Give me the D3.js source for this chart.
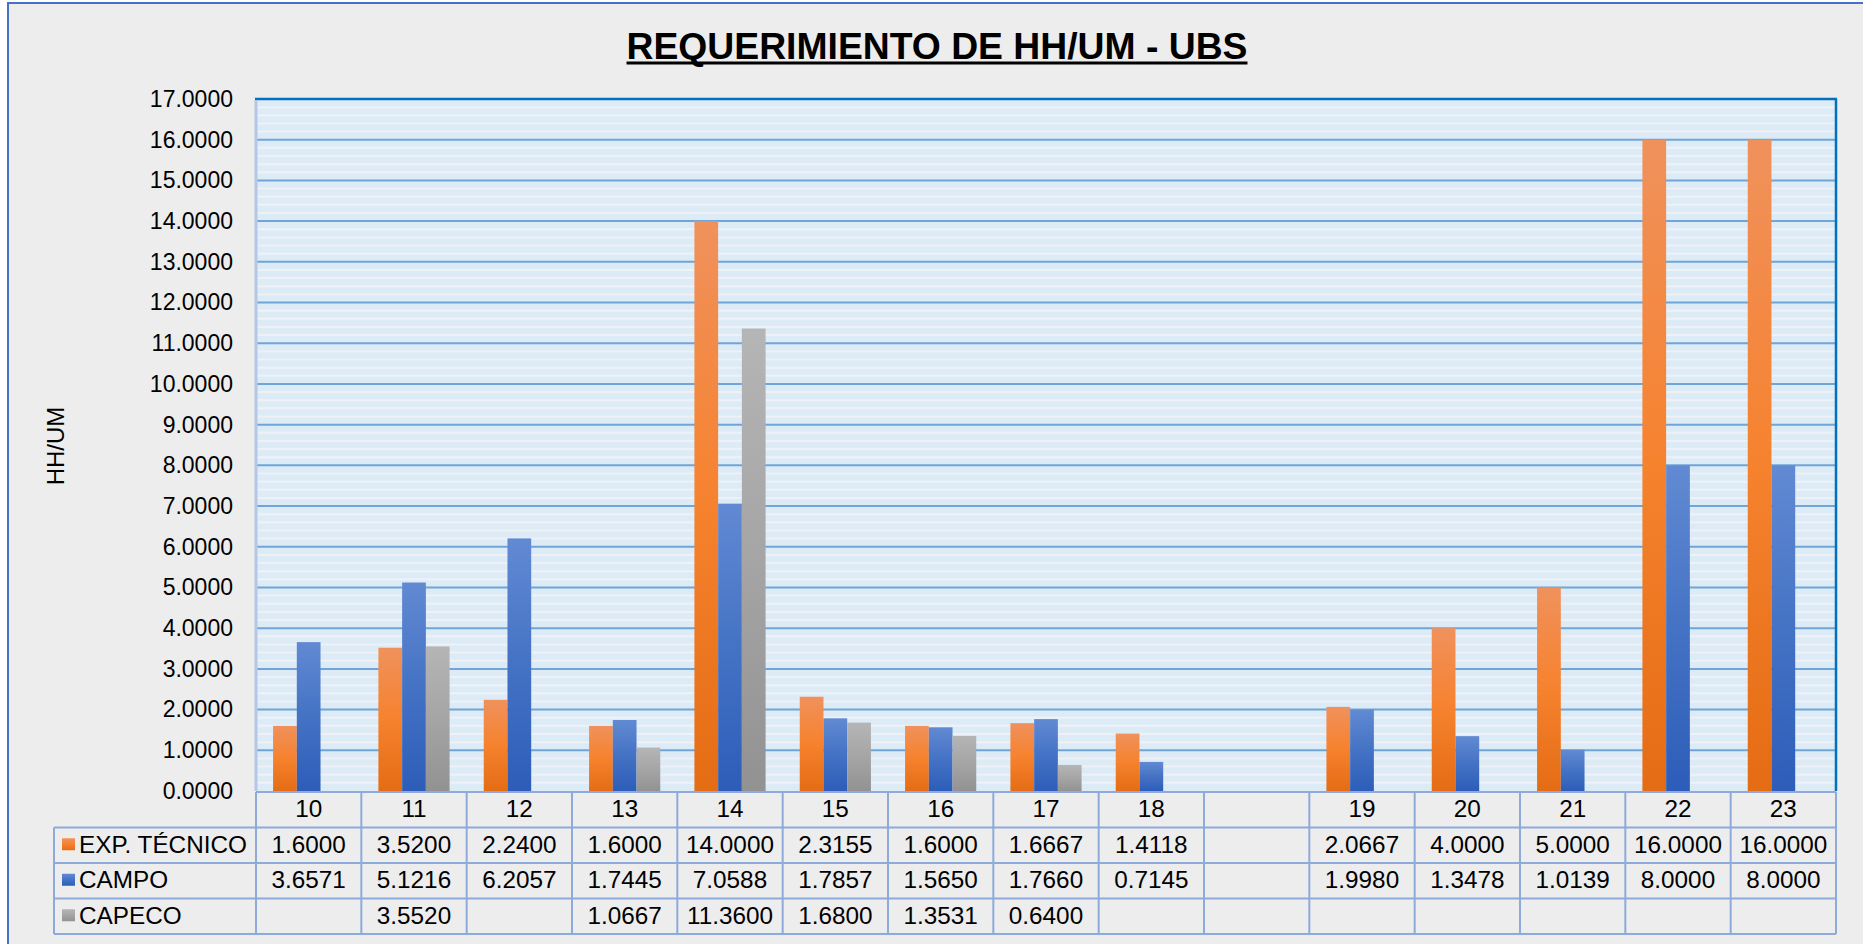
<!DOCTYPE html>
<html>
<head>
<meta charset="utf-8">
<script src="https://cdn.jsdelivr.net/npm/d3@7/dist/d3.min.js"></script>
<style>
  html, body { margin: 0; padding: 0; background: #ffffff; }
  svg { display: block; font-family: "Liberation Sans", Arial, sans-serif; }
</style>
</head>
<body>
<div id="chart"></div>
<script>
const categorias = ["10", "11", "12", "13", "14", "15", "16", "17", "18", "", "19", "20", "21", "22", "23"];
const series = ["EXP. TÉCNICO", "CAMPO", "CAPECO"];
const expTecnico = [1.6, 3.52, 2.24, 1.6, 14.0, 2.3155, 1.6, 1.6667, 1.4118, null, 2.0667, 4.0, 5.0, 16.0, 16.0];
const campo = [3.6571, 5.1216, 6.2057, 1.7445, 7.0588, 1.7857, 1.565, 1.766, 0.7145, null, 1.998, 1.3478, 1.0139, 8.0, 8.0];
const capeco = [null, 3.552, null, 1.0667, 11.36, 1.68, 1.3531, 0.64, null, null, null, null, null, null, null];
const valores = [expTecnico, campo, capeco];
const yMax = 17;

// Dimensiones generales
const W = 1863, H = 944;
const plot = { left: 256, right: 1836, top: 99, bottom: 791 };
const filaAlto = 35.5;
const tablaIzq = 54;
const fuente = 23;
const fuenteTabla = 24.3;

// Colores de degradado por serie: [arriba, medio, abajo]
const degradados = [
    ["#F0915C", "#F6822E", "#E46C14"],
    ["#628AD3", "#4472C4", "#2D5DB9"],
    ["#B5B5B5", "#A5A5A5", "#929292"]
];
const bordeTabla = "#8EAADB";

const svg = d3.select("#chart").append("svg")
    .attr("width", W)
    .attr("height", H);

// Fondo y borde exterior del área del gráfico
svg.append("rect")
    .attr("x", 8).attr("y", 3)
    .attr("width", W + 20).attr("height", H + 20)
    .attr("fill", "#EDEDED")
    .attr("stroke", "#4472C4")
    .attr("stroke-width", 2);

// Definición de degradados
const defs = svg.append("defs");
degradados.forEach((cols, i) => {
    const g = defs.append("linearGradient")
        .attr("id", "grad" + i)
        .attr("x1", 0).attr("y1", 0).attr("x2", 0).attr("y2", 1);
    g.append("stop").attr("offset", "0%").attr("stop-color", cols[0]);
    g.append("stop").attr("offset", "50%").attr("stop-color", cols[1]);
    g.append("stop").attr("offset", "100%").attr("stop-color", cols[2]);
});

// Escalas
const x = d3.scaleBand()
    .domain(categorias)
    .range([plot.left, plot.right])
    .paddingInner(0)
    .paddingOuter(0);

const xSerie = d3.scaleBand()
    .domain(series)
    .range([0, x.bandwidth()])
    .paddingInner(0)
    .paddingOuter(0.72);

const y = d3.scaleLinear()
    .domain([0, yMax])
    .range([plot.bottom, plot.top]);

// Fondo del área de trazado
svg.append("rect")
    .attr("x", plot.left).attr("y", plot.top)
    .attr("width", plot.right - plot.left)
    .attr("height", plot.bottom - plot.top)
    .attr("fill", "#DDEBF7");

// Líneas claras menores (patrón de rayas cada 0.2)
const menores = y.ticks(85).filter(d => Math.abs(d - Math.round(d)) > 1e-6);
svg.append("g")
    .selectAll("line")
    .data(menores)
    .join("line")
    .attr("x1", plot.left).attr("x2", plot.right)
    .attr("y1", d => y(d)).attr("y2", d => y(d))
    .attr("stroke", "#EEF2F7")
    .attr("stroke-width", 2);

// Líneas de cuadrícula principales
svg.append("g")
    .selectAll("line")
    .data(y.ticks(17).filter(d => d > 0 && d < yMax))
    .join("line")
    .attr("x1", plot.left).attr("x2", plot.right)
    .attr("y1", d => y(d)).attr("y2", d => y(d))
    .attr("stroke", "#6FA5D8")
    .attr("stroke-width", 2);

// Barras
const grupos = svg.append("g")
    .selectAll("g")
    .data(series)
    .join("g")
    .attr("fill", (d, i) => `url(#grad${i})`);

grupos.selectAll("rect")
    .data((s, i) => valores[i].map((v, j) => ({ serie: s, cat: categorias[j], v: v })).filter(d => d.v !== null))
    .join("rect")
    .attr("x", d => x(d.cat) + xSerie(d.serie))
    .attr("width", xSerie.bandwidth())
    .attr("y", d => y(d.v))
    .attr("height", d => y(0) - y(d.v));

// Bordes del área de trazado
svg.append("line")
    .attr("x1", plot.left - 1).attr("x2", plot.right + 1)
    .attr("y1", plot.top).attr("y2", plot.top)
    .attr("stroke", "#0070C0").attr("stroke-width", 2.5);
svg.append("line")
    .attr("x1", plot.right).attr("x2", plot.right)
    .attr("y1", plot.top).attr("y2", plot.bottom)
    .attr("stroke", "#0070C0").attr("stroke-width", 2.5);
svg.append("line")
    .attr("x1", plot.left).attr("x2", plot.left)
    .attr("y1", plot.top + 1).attr("y2", plot.bottom)
    .attr("stroke", "#B4C7E7").attr("stroke-width", 3);

// Eje Y con etiquetas
const ejeY = svg.append("g")
    .attr("transform", `translate(${plot.left - 23},0)`)
    .call(d3.axisLeft(y).ticks(17).tickSize(0).tickFormat(d3.format(".4f")));
ejeY.select(".domain").remove();
ejeY.selectAll("text")
    .attr("x", 0)
    .attr("font-size", fuente)
    .attr("font-family", "Liberation Sans, Arial, sans-serif")
    .attr("fill", "#000");

// Título del eje Y
svg.append("text")
    .attr("transform", `translate(56,${(plot.top + plot.bottom) / 2 + 1}) rotate(-90)`)
    .attr("text-anchor", "middle")
    .attr("dy", "0.35em")
    .attr("font-size", 24)
    .attr("fill", "#000")
    .text("HH/UM");

// Título principal subrayado
const titulo = svg.append("text")
    .attr("x", 937).attr("y", 59)
    .attr("text-anchor", "middle")
    .attr("font-size", 37.3)
    .attr("font-weight", "bold")
    .attr("fill", "#000")
    .text("REQUERIMIENTO DE HH/UM - UBS");
const tw = titulo.node().getComputedTextLength();
svg.append("line")
    .attr("x1", 937 - tw / 2).attr("x2", 937 + tw / 2)
    .attr("y1", 63).attr("y2", 63)
    .attr("stroke", "#000").attr("stroke-width", 3);

// Tabla de datos
const tabla = svg.append("g");
const top0 = plot.bottom + 1;
const filaY = i => top0 + filaAlto * i;

// Encabezado: nombres de categoría
tabla.selectAll(".cab")
    .data(categorias)
    .join("text")
    .attr("class", "cab")
    .attr("x", d => x(d) + x.bandwidth() / 2)
    .attr("y", filaY(0) + filaAlto / 2 - 1)
    .attr("dy", "0.36em")
    .attr("text-anchor", "middle")
    .attr("font-size", fuenteTabla)
    .attr("fill", "#000")
    .text(d => d);

// Filas de valores
series.forEach((s, i) => {
    const yc = filaY(i + 1) + filaAlto / 2 - 1;
    tabla.append("rect")
        .attr("x", 62).attr("y", yc - 6)
        .attr("width", 13).attr("height", 12)
        .attr("fill", `url(#grad${i})`);
    tabla.append("text")
        .attr("x", 79).attr("y", yc)
        .attr("dy", "0.36em")
        .attr("font-size", fuenteTabla)
        .attr("fill", "#000")
        .text(s);
    tabla.selectAll(".v" + i)
        .data(valores[i].map((v, j) => ({ cat: categorias[j], v: v })).filter(d => d.v !== null))
        .join("text")
        .attr("x", d => x(d.cat) + x.bandwidth() / 2)
        .attr("y", yc)
        .attr("dy", "0.36em")
        .attr("text-anchor", "middle")
        .attr("font-size", fuenteTabla)
        .attr("fill", "#000")
        .text(d => d3.format(".4f")(d.v));
});

// Líneas de la tabla
const lineas = tabla.append("g")
    .attr("stroke", bordeTabla)
    .attr("stroke-width", 2);
lineas.append("line")
    .attr("x1", plot.left).attr("x2", plot.right)
    .attr("y1", filaY(0)).attr("y2", filaY(0));
[1, 2, 3, 4].forEach(i => {
    lineas.append("line")
        .attr("x1", tablaIzq).attr("x2", plot.right)
        .attr("y1", filaY(i)).attr("y2", filaY(i));
});
lineas.append("line")
    .attr("x1", tablaIzq).attr("x2", tablaIzq)
    .attr("y1", filaY(1)).attr("y2", filaY(4));
lineas.selectAll(".vl")
    .data(categorias.map(c => x(c)).concat([plot.right]))
    .join("line")
    .attr("x1", d => d).attr("x2", d => d)
    .attr("y1", filaY(0)).attr("y2", filaY(4));
</script>
</body>
</html>
